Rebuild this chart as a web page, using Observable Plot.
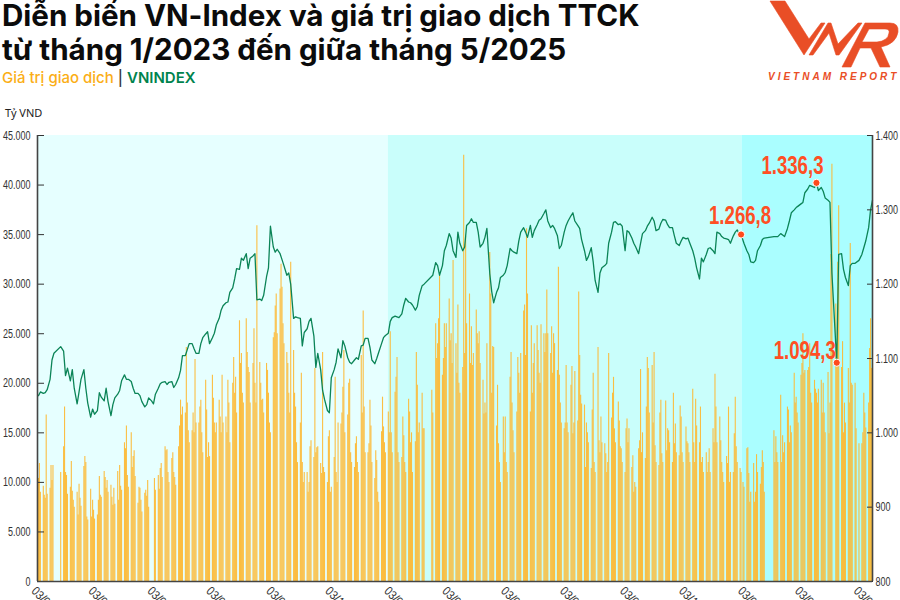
<!DOCTYPE html>
<html lang="vi">
<head>
<meta charset="utf-8">
<script src="https://cdn.jsdelivr.net/npm/d3@7"></script>
<script src="https://cdn.jsdelivr.net/npm/@observablehq/plot@0.6"></script>
<style>
html,body{margin:0;padding:0;background:#fff;width:900px;height:600px;overflow:hidden}
#head{position:relative;height:120px;width:900px;font-family:Inter,"Noto Sans",sans-serif}
.t{position:absolute;left:2px;font-size:29.6px;font-weight:700;color:#0b0b0b;letter-spacing:-.02px;white-space:nowrap}
#t1{top:0;line-height:31px}
#t2{top:31.5px;line-height:34.5px}
#s{position:absolute;left:2px;top:68px;font-size:15px;font-weight:500;white-space:nowrap;color:#333}
#u{position:absolute;left:5px;top:105px;font-size:11px;color:#222;font-family:"Noto Sans",sans-serif}
#logo{position:absolute;left:0;top:0}
#chart svg{display:block}
</style>
</head>
<body>
<div id="head">
  <svg id="logo" width="900" height="90">
    <g fill="#e94e26" stroke="#e94e26" stroke-width=".6">
      <polygon points="770,1 785,1 809,39 821,23 825,23 804,55"/>
      <polygon points="809,55 828,23 831,23 838,44 858,23 862,23 839,55 836,55 829,33 813,55"/>
      <path d="M842,67 L865,23 L890,23 Q899,23 898,32 Q896,44 881,47 L890,67 L880,67 L871,48 L860,48 L851,67 Z M869,29 L862,42 L877,42 Q888,41 889,33 Q890,29 885,29 Z" fill-rule="evenodd"/>
    </g>
    <text x="768" y="80" font-family="Liberation Sans,sans-serif" font-weight="700" font-style="italic" font-size="10" letter-spacing="3" fill="#e94e26">VIETNAM REPORT</text>
  </svg>
  <div class="t" id="t1">Diễn biến VN-Index và giá trị giao dịch TTCK</div>
  <div class="t" id="t2">từ tháng 1/2023 đến giữa tháng 5/2025</div>
  <div id="s"><span style="color:#fbae17">Giá trị giao dịch</span> | <span style="color:#00834e;font-weight:600">VNINDEX</span></div>
  <div id="u">Tỷ VND</div>
</div>
<div id="chart"></div>
<script>
// Trading value, thousand tỷ VND, Mon-Fri per week from the week of 2 Jan 2023
const tradedValueWeeks = [
[null,9.2,10.4,11.9,9],[9.6,8.7,8.4,16.8,8.8],[9.4,11.7,10.2,11.7,null],[null,null,null,null,11],
[13.6,17.6,11,10.7,8.8],[9.5,12.1,9.1,8.2,7.5],[9,6.7,9.8,8.4,7.6],[11.6,12.6,12,6.5,6.2],
[9.3,6.5,8.2,7.2,6.3],[6.7,8.2,10.6,8.7,8.5],[11.1,10.5,9.4,10.2,9],[9.7,8.5,7.7,9.4,7.8],
[11.1,8.2,11.7,9.6,9.2],[14,13.4,15.7,10.7,9.5],[15,11.5,12.6,13.2,10.6],[7.9,9.5,9.4,8.2,7],
[8.9,9.2,8.6,10.2,7.5],[null,null,null,10.4,9.2],[10.7,9.3,11.4,11.9,10.5],[13.6,13.2,13.3,11,10],
[12.4,13,11,10.5,9.7],[13.6,15.7,18.3,16.8,17.6],[17,23.6,18,15.2,14],[15.2,17,15,22.4,16],
[16,17.6,18.3,15,13],[20.3,17.3,12.5,14,12.6],[20.8,18.5,16,15,16],[18.3,16.6,15,20.8,16],
[16.6,15,20.3,18,14],[20,22.6,19,20.6,17],[26.3,22,23,19,18],[26.5,23.1,21.6,21.1,18],
[22,25.5,20,18,35.9],[22.1,20,18.3,18.4,17],[22,21.3,19,16,15],[24.6,25.1,27.8,29,25],
[29.5,32,29.7,26,24],[23.1,22,19,17,32.2],[23.3,19,17.6,14,12],[16,21,12,10,11],
[11,9,10,13.6,14.2],[12.5,21.5,13,13.5,13.6],[11.9,10.9,23.1,11.5,11],[10,14.6,15.2,9,9.5],
[12.5,20.6,11,10,16],[15.9,17,19.6,23.3,15],[16.8,20,20.4,13,12],[11.5,13.9,14.6,12,11],
[22.8,17,27.3,17.6,13],[13,13.9,18.3,15.7,12],[10.4,13.2,12.2,9,8],[15.1,18.6,15.6,14,13],
[17.1,15,25.2,15,13],[19.1,20.6,22.6,13,12],[12.5,16.6,14.7,12,11],[18.4,17.1,14,15,11],
[14.1,23.1,19.8,15,16],[19,15.4,15.4,null,null],[null,null,null,19.3,17],[26,22.5,24,26.5,30.9],
[20.8,22.5,26,23.6,26],[28.5,24.3,25,22,32.4],[24,21,27.9,20,19],[21.6,43,23,34.8,26],
[29,22,25.7,21.8,23],[27.4,25,24,25.2,22],[20.3,16.9,18,17,24],[33.2,29,19,23.7,23.6],
[15.7,19.8,13.9,12,10],[16.6,13,16.6,12,11],[20.6,23.1,18,15.2,13],[17.1,22.6,21,19,23],
[27.3,27.9,22.8,35.6,29],[17.1,25.8,19,22,24],[25.8,23.3,21,20,25.9],[25,23.1,25,29.4,25],
[23,25.7,21,25,24],[21.3,31.7,20.8,18,16],[15.4,16,21.8,16,15],[19.8,21.7,14.9,16,21.2],
[16.2,29.2,22.8,18.8,17.9],[17.8,11.5,16,15,14],[11.4,17.3,21,12,11],[23.6,14.2,13,16.6,14],
[13.9,12.9,11,12,23],[16.5,19,20.6,15.4,14],[18.1,16.2,13.6,13.4,12],[11,15.4,16.4,14,15.4],
[11.5,12.7,9,10,9.5],[13.4,14.2,21.4,13,15],[12.4,17.6,22.6,21.5,17],[21.8,16,23.1,13.7,12],
[11.7,17,18.3,12.9,12],[18.2,13.2,15.4,15.2,14],[12,19,13.9,15.9,13],[12.7,17.7,16.6,13,12],
[15.6,14.1,13.9,13,12],[19.4,14,12,18.4,15.7],[14,17.6,12,12.5,11],[13,11,12,13.4,11],
[15.4,14,20.9,17.6,14],[16.6,14.2,12,11,10],[12.6,11.9,17.6,10,11],[11,14.9,18.6,13.6,12],
[11.4,11,null,10,9.5],[13.4,13.5,10.9,8,9],[11.9,8,9,12.8,11],[9.8,11.5,13.2,12,9],
[null,null,null,null,null],[15.2,12,14.6,13,12],[18.8,12,14.7,13,14],[17.6,17.3,14,15.7,15],
[21,18,18.6,17,16],[20.8,22,25,21,21.3],[21.3,21.6,24,19,18],[20.3,19.4,19,18,19.4],
[20.3,17,20,17,15],[21.1,14.9,18,33,42.1],[null,28,24,32.2,37.9],[21.6,24.2,15,18,16],
[21.5,18,34.1,20,19.8],[20,15.4,null,null,13.9],[13.9,15,19,17,15.5],[18,23.5,26.5,21.5,22]
];
// VN-Index, read on Monday, Wednesday and Friday of the same weeks
const vnIndexWeeks = [
[null,1050,1055],[1053,1054,1058],[1072,1098,1107],[null,null,1116],
[1110,1077,1087],[1070,1085,1060],[1039,1055,1072],[1085,1060,1040],
[1021,1032,1025],[1030,1054,1048],[1043,1060,1042],[1023,1038,1047],
[1052,1057,1070],[1078,1072,1072],[1069,1060,1053],[1053,1050,1042],
[1035,1038,1047],[1043,1039,1052],[1060,1066,1068],[1069,1065,1068],
[1069,1061,1065],[1074,1084,1104],[1104,1112,1120],[1120,1113,1107],
[1107,1120,1128],[1133,1136,1120],[1128,1134,1145],[1154,1165,1171],
[1175,1176,1189],[1195,1207,1221],[1220,1235,1232],[1241,1221,1235],
[1238,1241,1179],[1180,1178,1185],[1210,1222,1278],[1250,1243,1247],
[1241,1233,1225],[1212,1215,1200],[1154,1156,1155],[1154,1117,1135],
[1140,1150,1154],[1130,1088,1107],[1085,1057,1045],[1030,1027,1074],
[1085,1095,1113],[1101,1124,1117],[1101,1095,1093],[1098,1101,1099],
[1117,1118,1127],[1127,1115,1098],[1093,1100,1108],[1120,1128,1131],
[1134,1150,1155],[1157,1156,1155],[1160,1172,1181],[1176,1175,1172],
[1165,1170,1185],[1198,1200,null],[null,null,1212],[1229,1225,1212],
[1225,1245,1252],[1268,1262,1245],[1236,1270,1255],[1245,1250,1279],
[1283,1288,1283],[1283,1270,1250],[1255,1263,1275],[1214,1190,1175],
[1189,1195,1209],[1212,1216,1225],[1248,1245,1243],[1241,1258,1270],
[1276,1270,1263],[1279,1263,1272],[1280,1286,1288],[1295,1300,1285],
[1276,1279,1275],[1265,1248,1252],[1270,1279,1285],[1292,1296,1285],
[1279,1275,1260],[1245,1232,1237],[1249,1230,1205],[1189,1215,1222],
[1225,1228,1255],[1270,1283,1284],[1280,1281,1278],[1245,1272,1270],
[1262,1255,1250],[1241,1255,1268],[1272,1278,1282],[1290,1285,1272],
[1274,1282,1287],[1286,1280,1276],[1276,1265,1255],[1252,1258,1263],
[1261,1262,1255],[1245,1235,1222],[1207,1235,1230],[1240,1248,1249],
[1245,1241,1270],[1268,1264,1262],[1261,1260,1255],[1265,1270,1273],
[1265,null,1255],[1245,1240,1230],[1229,1232,1245],[1252,1260,1262],
[null,null,null],[1264,1264,1264],[1268,1266,1264],[1275,1285,1296],
[1300,1303,1305],[1308,1310,1323],[1328,1333,1332],[1330,1336.3,1326],
[1330,1325,1316],[1313,1310,1215],[null,1094.3,1240],[1241,1220,1209],
[1198,1225,1228],[1228,null,1232],[1240,1249,1258],[1276,1300,1313]
];
const calloutDates = ["2024-12-31","2025-03-19","2025-04-09"];
const calloutValues = [1266.8,1336.3,1094.3];
const xTickDates = ["2023-01-03","2023-03-03","2023-05-03","2023-07-03","2023-09-03","2023-11-03","2024-01-03","2024-03-03","2024-05-03","2024-07-03","2024-09-03","2024-11-03","2025-01-03","2025-03-03","2025-05-03"];
const leftTicks = [0,5000,10000,15000,20000,25000,30000,35000,40000,45000];
const rightTicks = [800,900,1000,1100,1200,1300,1400];
const bandStarts = ["2023-01-03","2024-01-01","2025-01-01"];
const bandEnds = ["2024-01-01","2025-01-01","2025-05-16"];
const bandColors = ["#e6ffff","#c9fefb","#aafeff"];

const D = s => new Date(s + "T00:00:00Z");
const firstMonday = D("2023-01-02");
const toLeft = v => (v - 800) * 75;            // right-axis units onto the shared y scale
const vi = d3.formatLocale({decimal: ",", thousands: ".", grouping: [3], currency: ["", ""]});
const fmtInt = vi.format(",");
const fmtOne = vi.format(",.1f");
const fmtDate = d3.utcFormat("%d/%m/%Y");

const bars = tradedValueWeeks.flatMap((row, w) => row.map((v, i) => ({
  date: d3.utcDay.offset(firstMonday, 7 * w + i), value: v == null ? null : v * 1000
}))).filter(d => d.value != null);

const lineMap = new Map();
vnIndexWeeks.forEach((row, w) => row.forEach((v, i) => {
  if (v != null) { const date = d3.utcDay.offset(firstMonday, 7 * w + i * 2); lineMap.set(+date, {date, index: v}); }
}));
const callouts = calloutDates.map((s, i) => ({date: D(s), index: calloutValues[i]}));
callouts.forEach(c => lineMap.set(+c.date, c));
const line = d3.sort(lineMap.values(), d => d.date);

const bands = bandStarts.map((s, i) => ({x1: D(s), x2: D(bandEnds[i]), fill: bandColors[i]}));
const axisFont = '"Liberation Sans",sans-serif';
const red = "#ff4f24";
const calloutText = (i, dx, dy) => Plot.text([callouts[i]], {
  x: "date", y: d => toLeft(d.index), text: d => fmtOne(d.index),
  fill: red, fontSize: 25, fontWeight: 700, dx, dy
});

const plot = Plot.plot({
  width: 900, height: 480,
  marginTop: 15, marginBottom: 19, marginLeft: 37, marginRight: 28,
  style: {background: "transparent", fontFamily: axisFont, fontSize: "12.5px", color: "#333", overflow: "hidden"},
  x: {type: "utc", domain: [D("2023-01-03"), D("2025-05-16")], axis: null},
  y: {domain: [0, 45000], axis: null},
  marks: [
    Plot.rect(bands, {x1: "x1", x2: "x2", y1: 0, y2: 45000, fill: d => d.fill}),
    Plot.ruleX(bars, {x: "date", y1: 0, y2: "value", stroke: "#fdb933", strokeOpacity: 0.92, strokeWidth: 1.1}),
    Plot.line(line, {x: "date", y: d => toLeft(d.index), stroke: "#0b8457", strokeWidth: 1.3}),
    Plot.axisY(leftTicks, {anchor: "left", tickSize: -7, tickPadding: 14, tickFormat: fmtInt, stroke: "#333", label: null, strokeWidth: 1}),
    Plot.axisY(rightTicks.map(toLeft), {anchor: "right", tickSize: -6, tickPadding: 9, tickFormat: y => fmtInt(y / 75 + 800), stroke: "#333", label: null}),
    Plot.axisX(xTickDates.map(D), {anchor: "bottom", tickSize: 0, tickPadding: 7.5, tickRotate: 45, textAnchor: "start", dx: -4, tickFormat: fmtDate, label: null}),
    Plot.ruleX([D("2023-01-03")], {stroke: "#444", strokeWidth: 1.6}),
    Plot.ruleX([D("2025-05-16")], {stroke: "#444", strokeWidth: 1.6}),
    Plot.ruleY([0], {stroke: "#444", strokeWidth: 1.6}),
    Plot.dot(callouts, {x: "date", y: d => toLeft(d.index), r: 3.6, fill: "#ff4a1c", stroke: "#fff", strokeWidth: 1}),
    calloutText(0, -1, -19),
    calloutText(1, -24, -17),
    calloutText(2, -32, -12)
  ]
});
document.getElementById("chart").append(plot);
// The reference's numerals are condensed: narrow every chart text in place, keeping it real text.
plot.querySelectorAll("text").forEach(t => {
  const big = parseFloat(getComputedStyle(t).fontSize) >= 20;
  const rotated = (t.getAttribute("transform") || "").includes("rotate");
  t.setAttribute("textLength", (t.getComputedTextLength() * (big ? 0.745 : rotated ? 0.85 : 0.72)).toFixed(1));
  t.setAttribute("lengthAdjust", "spacingAndGlyphs");
});
</script>
</body>
</html>
